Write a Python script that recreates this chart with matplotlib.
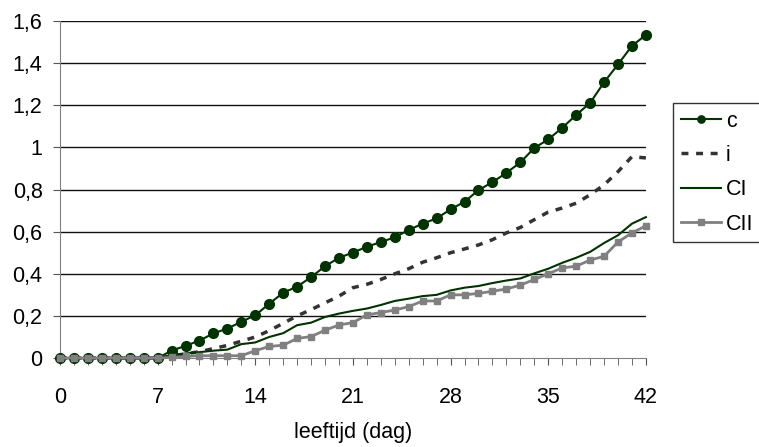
import matplotlib.pyplot as plt
from matplotlib.ticker import FuncFormatter, MultipleLocator

plt.rcParams["font.family"] = ["Liberation Sans", "DejaVu Sans"]

# leeftijd in dagen, 0 t/m 42
dagen = list(range(43))

c = [0, 0, 0, 0, 0, 0, 0, 0, 0.035, 0.058, 0.083, 0.117, 0.14, 0.172, 0.203,
     0.258, 0.31, 0.339, 0.384, 0.436, 0.476, 0.501, 0.528, 0.551, 0.573,
     0.608, 0.638, 0.663, 0.706, 0.742, 0.797, 0.835, 0.879, 0.929, 0.997,
     1.038, 1.093, 1.154, 1.211, 1.309, 1.394, 1.482, 1.534]

i = [0, 0, 0, 0, 0, 0, 0, 0, 0.01, 0.02, 0.03, 0.045, 0.06, 0.08, 0.1,
     0.13, 0.165, 0.2, 0.23, 0.262, 0.294, 0.334, 0.35, 0.373, 0.4,
     0.424, 0.455, 0.476, 0.5, 0.518, 0.537, 0.562, 0.594, 0.62, 0.657,
     0.693, 0.712, 0.735, 0.775, 0.822, 0.885, 0.956, 0.95]

ci = [0, 0, 0, 0, 0, 0, 0, 0, 0.01, 0.022, 0.028, 0.035, 0.04, 0.066, 0.074,
      0.1, 0.118, 0.156, 0.168, 0.195, 0.211, 0.224, 0.235, 0.252, 0.271,
      0.282, 0.294, 0.3, 0.321, 0.334, 0.342, 0.356, 0.368, 0.378, 0.402,
      0.424, 0.452, 0.476, 0.504, 0.546, 0.583, 0.638, 0.669]

cii = [0, 0, 0, 0, 0, 0, 0, 0, 0.003, 0.008, 0.011, 0.011, 0.011, 0.011, 0.035,
       0.055, 0.061, 0.093, 0.102, 0.132, 0.157, 0.168, 0.205, 0.216, 0.228,
       0.244, 0.271, 0.271, 0.3, 0.3, 0.307, 0.317, 0.328, 0.346, 0.373,
       0.4, 0.428, 0.436, 0.465, 0.483, 0.551, 0.594, 0.628]

DONKERGROEN = "#003300"
GRIJS = "#808080"
FONTGROOTTE = 15.5


def komma(v, _):
    if abs(v - round(v)) < 1e-9:
        return str(int(round(v)))
    return f"{v:.1f}".replace(".", ",")


fig = plt.figure(figsize=(7.59, 4.47), dpi=100)
ax = fig.add_axes([0.079, 0.199, 0.772, 0.754])

# horizontale rasterlijnen
for y in [0.2, 0.4, 0.6, 0.8, 1.0, 1.2, 1.4, 1.6]:
    ax.axhline(y, color="#111111", linewidth=1.0, zorder=1)

ax.plot(dagen, c, color=DONKERGROEN, linewidth=1.5, marker="o",
        markersize=7, markerfacecolor=DONKERGROEN,
        markeredgecolor=DONKERGROEN, label="c", clip_on=False, zorder=3)
ax.plot(dagen, i, color="#333333", linewidth=2.5, linestyle=(0, (2, 2.2)),
        label="i", clip_on=False, zorder=3)
ax.plot(dagen, ci, color=DONKERGROEN, linewidth=1.5, label="CI",
        clip_on=False, zorder=3)
ax.plot(dagen, cii, color=GRIJS, linewidth=2, marker="s", markersize=5,
        markerfacecolor=GRIJS, markeredgecolor=GRIJS, label="CII",
        clip_on=False, zorder=4)

ax.set_xlim(0, 42)
ax.set_ylim(0, 1.6)

ax.xaxis.set_major_locator(MultipleLocator(7))
ax.xaxis.set_minor_locator(MultipleLocator(1))
ax.yaxis.set_major_locator(MultipleLocator(0.2))
ax.yaxis.set_major_formatter(FuncFormatter(komma))

ax.tick_params(axis="both", labelsize=FONTGROOTTE, direction="out",
               length=5, color="#555555")
ax.tick_params(axis="y", pad=7.5)
ax.tick_params(axis="x", pad=16)
ax.tick_params(axis="x", which="minor", length=5, color="#555555")

for kant in ["top", "right"]:
    ax.spines[kant].set_visible(False)
ax.spines["left"].set_color(GRIJS)
ax.spines["bottom"].set_color(GRIJS)

ax.set_xlabel("leeftijd (dag)", fontsize=FONTGROOTTE, labelpad=10)

leg = ax.legend(loc="upper left", bbox_to_anchor=(0.8867, 0.7696),
                bbox_transform=fig.transFigure, borderaxespad=0,
                fontsize=FONTGROOTTE, frameon=True, fancybox=False,
                handlelength=1.86, handletextpad=0.25, borderpad=0.35,
                labelspacing=0.62, markerscale=0.75)
leg.get_frame().set_edgecolor("black")
leg.get_frame().set_linewidth(1.0)

fig.savefig("out.png", dpi=100)
